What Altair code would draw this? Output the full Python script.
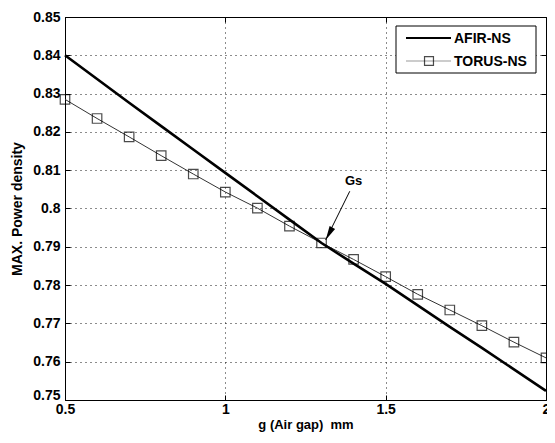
import altair as alt
import pandas as pd

# ---- data ----
g_vals = [0.5, 0.6, 0.7, 0.8, 0.9, 1.0, 1.1, 1.2, 1.3, 1.4, 1.5, 1.6, 1.7, 1.8, 1.9, 2.0]
afir_ns = [0.8400, 0.8338, 0.8276, 0.8215, 0.8154, 0.8093, 0.8032, 0.7971,
           0.7910, 0.7856, 0.7803, 0.7747, 0.7691, 0.7636, 0.7580, 0.7524]
torus_ns = [0.8285, 0.8235, 0.8187, 0.8138, 0.8090, 0.8043, 0.8001, 0.7954,
            0.7910, 0.7867, 0.7822, 0.7776, 0.7735, 0.7694, 0.7651, 0.7610]

x_ticks = [0.5, 1.0, 1.5, 2.0]
y_ticks = [0.75, 0.76, 0.77, 0.78, 0.79, 0.80, 0.81, 0.82, 0.83, 0.84, 0.85]

series_names = ["AFIR-NS", "TORUS-NS"]
annot_label = ["Gs"]
annot_text_pos = [1.400, 0.8071]
annot_arrow_from = [1.388, 0.8045]
annot_arrow_to = [1.313, 0.7918]

FONT = "Liberation Sans"
W, H = 481, 383

df_afir = pd.DataFrame({"g": g_vals, "p": afir_ns})
df_torus = pd.DataFrame({"g": g_vals, "p": torus_ns})

xscale = alt.Scale(domain=[0.5, 2.0], nice=False, zero=False)
yscale = alt.Scale(domain=[0.75, 0.85], nice=False, zero=False)

x_axis = alt.Axis(values=x_ticks, format=".1~f", ticks=False, tickSize=0, domain=False,
                  grid=True, gridColor="black", gridDash=[1, 4], gridWidth=1, gridOpacity=0.9,
                  labelFont=FONT, labelFontSize=14, labelFontWeight="bold", labelColor="black",
                  labelPadding=2, labelFlush=False,
                  title="g (Air gap)\u00a0 mm", titleFont=FONT, titleFontSize=13,
                  titleFontWeight="bold", titleColor="black", titlePadding=2)
y_axis = alt.Axis(values=y_ticks, format=".2~f", ticks=False, tickSize=0, domain=False,
                  grid=True, gridColor="black", gridDash=[1, 4], gridWidth=1, gridOpacity=0.9,
                  labelFont=FONT, labelFontSize=14, labelFontWeight="bold", labelColor="black",
                  labelPadding=5, labelFlush=False,
                  labelOffset={"expr": "datum.value < 0.755 ? -5 : 0"},
                  title="MAX. Power density", titleFont=FONT, titleFontSize=14,
                  titleFontWeight="bold", titleColor="black", titlePadding=8)

X = alt.X("g:Q", scale=xscale, axis=x_axis)
Y = alt.Y("p:Q", scale=yscale, axis=y_axis)

afir_line = alt.Chart(df_afir).mark_line(color="black", strokeWidth=2.6).encode(x=X, y=Y)
torus_line = alt.Chart(df_torus).mark_line(color="#333333", strokeWidth=1).encode(x=X, y=Y)
torus_pts = alt.Chart(df_torus).mark_point(shape="square", size=90, filled=False,
                                            color="black", strokeWidth=1.2).encode(x=X, y=Y)

# annotation
df_txt = pd.DataFrame({"g": [annot_text_pos[0]], "p": [annot_text_pos[1]], "t": annot_label})
gs_text = alt.Chart(df_txt).mark_text(font=FONT, fontSize=13, fontWeight="bold",
                                      color="black").encode(x=X, y=Y, text="t:N")
df_arrow = pd.DataFrame({"g": [annot_arrow_from[0]], "p": [annot_arrow_from[1]],
                         "g2": [annot_arrow_to[0]], "p2": [annot_arrow_to[1]]})
arrow_line = alt.Chart(df_arrow).mark_rule(color="black", strokeWidth=1).encode(
    x=X, y=Y, x2="g2:Q", y2="p2:Q")
df_head = pd.DataFrame({"g": [annot_arrow_to[0]], "p": [annot_arrow_to[1]]})
arrow_head = alt.Chart(df_head).mark_point(
    shape="M0,0L-0.22,1L0.22,1Z", size=800, filled=True, color="black",
    angle=208, opacity=1).encode(x=X, y=Y)

# inward tick marks on all four sides
tick_common = dict(labels=False, domain=False, grid=False, title=None,
                   tickColor="black", tickSize=5, tickWidth=1, zindex=1)
ticks_a = alt.Chart(df_torus).mark_point(opacity=0).encode(
    x=alt.X("g:Q", scale=xscale, axis=alt.Axis(values=x_ticks, orient="top", offset=-H, **tick_common)),
    y=alt.Y("p:Q", scale=yscale, axis=alt.Axis(values=y_ticks, orient="right", offset=-W, **tick_common)))
ticks_b = alt.Chart(df_torus).mark_point(opacity=0).encode(
    x=alt.X("g:Q", scale=xscale, axis=alt.Axis(values=x_ticks, orient="bottom", offset=-H, **tick_common)),
    y=alt.Y("p:Q", scale=yscale, axis=alt.Axis(values=y_ticks, orient="left", offset=-W, **tick_common)))

# legend (drawn in pixel space inside the plot)
one = pd.DataFrame({"a": [0]})
BX = 331
leg_box = alt.Chart(one).mark_rect(fill="white", stroke="black", strokeWidth=1).encode(
    x=alt.value(BX), x2=alt.value(BX + 140), y=alt.value(9), y2=alt.value(56))
leg_l1 = alt.Chart(one).mark_rule(color="black", strokeWidth=2).encode(
    x=alt.value(BX + 10), x2=alt.value(BX + 55), y=alt.value(21))
leg_l2 = alt.Chart(one).mark_rule(color="#999999", strokeWidth=1).encode(
    x=alt.value(BX + 10), x2=alt.value(BX + 55), y=alt.value(44))
leg_sq = alt.Chart(one).mark_point(shape="square", size=80, filled=False, color="black",
                                   strokeWidth=1.2).encode(x=alt.value(BX + 33), y=alt.value(44))
leg_t1 = alt.Chart(one).mark_text(align="left", baseline="middle", font=FONT, fontSize=14,
                                  fontWeight="bold", color="black", text=series_names[0]).encode(
    x=alt.value(BX + 58), y=alt.value(22))
leg_t2 = alt.Chart(one).mark_text(align="left", baseline="middle", font=FONT, fontSize=14,
                                  fontWeight="bold", color="black", text=series_names[1]).encode(
    x=alt.value(BX + 58), y=alt.value(45))

data_layers = alt.layer(torus_line, afir_line, torus_pts, arrow_line, arrow_head, gs_text,
                        leg_box, leg_l1, leg_l2, leg_sq, leg_t1, leg_t2)

chart = alt.layer(data_layers, ticks_a, ticks_b).resolve_axis(
    x="independent", y="independent").properties(
    width=W, height=H,
    padding={"left": 57, "top": 9, "right": 1, "bottom": 35},
    autosize=alt.AutoSizeParams(type="none"),
    background="white",
).configure_view(stroke="black", strokeWidth=1)

chart.save("out.html", embed_options={"renderer": "svg", "actions": False})
